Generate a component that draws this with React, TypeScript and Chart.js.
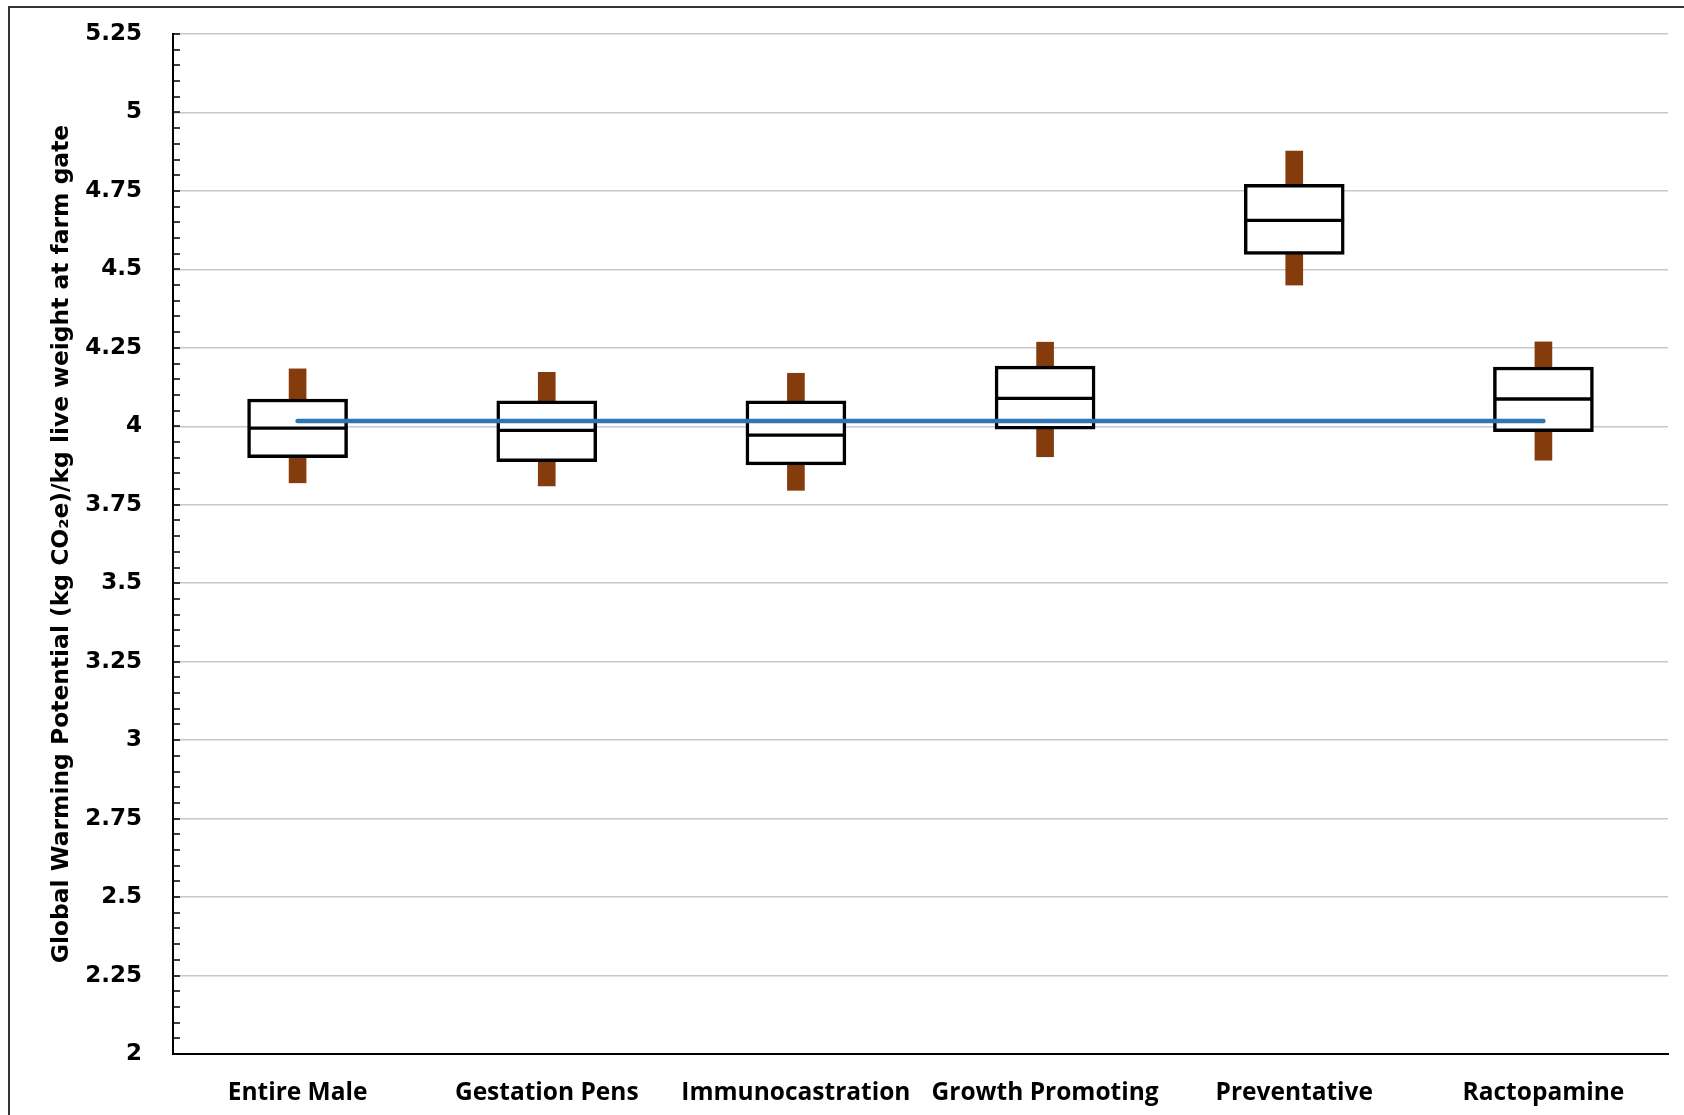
import React, { useEffect, useRef } from "react";
import { Chart, registerables } from "chart.js";

Chart.register(...registerables);

// ---- data ----
const categories = [
  "Entire Male",
  "Gestation Pens",
  "Immunocastration",
  "Growth Promoting",
  "Preventative",
  "Ractopamine",
];
const whiskerLow = [3.82, 3.81, 3.796, 3.903, 4.45, 3.892];
const q1 = [3.9, 3.887, 3.877, 3.991, 4.548, 3.983];
const median = [3.994, 3.987, 3.972, 4.089, 4.656, 4.087];
const q3 = [4.087, 4.081, 4.081, 4.192, 4.771, 4.189];
const whiskerHigh = [4.183, 4.172, 4.169, 4.268, 4.877, 4.269];
const referenceLine = [4.017, 4.017, 4.017, 4.017, 4.017, 4.017];

const yMin = 2;
const yMax = 5.25;
const yStep = 0.25;
const yMinorStep = 0.05;
const yTitle = "Global Warming Potential (kg CO\u2082e)/kg live weight at farm gate";

const W = 1684;
const H = 1115;

const minorTicks = {
  id: "minorTicks",
  afterDraw(chart: any) {
    const y = chart.scales.y;
    const ctx = chart.ctx;
    const x0 = chart.chartArea.left;
    ctx.save();
    ctx.strokeStyle = "#000";
    ctx.lineWidth = 1.5;
    const n = Math.round((yMax - yMin) / yMinorStep);
    for (let i = 0; i <= n; i++) {
      const py = Math.round(y.getPixelForValue(yMin + i * yMinorStep));
      ctx.beginPath();
      ctx.moveTo(x0, py);
      ctx.lineTo(x0 + 7, py);
      ctx.stroke();
    }
    ctx.restore();
  },
};

export default function App() {
  const ref = useRef<HTMLCanvasElement | null>(null);

  useEffect(() => {
    document.body.style.margin = "0";
    document.body.style.overflow = "hidden";
    const canvas = ref.current!;
    const pair = (a: number[], b: number[]) => a.map((v, i) => [v, b[i]]);
    const chart = new Chart(canvas, {
      type: "bar",
      data: {
        labels: categories,
        datasets: [
          {
            type: "line",
            label: "reference",
            data: referenceLine,
            borderColor: "#2E75B6",
            borderWidth: 4.5,
            borderCapStyle: "round",
            pointRadius: 0,
            order: 0,
          } as any,
          {
            label: "upper box",
            data: pair(median, q3),
            backgroundColor: "#FFFFFF",
            borderColor: "#000000",
            borderWidth: { top: 3.5, left: 3.5, right: 3.5, bottom: 2 },
            borderSkipped: false,
            barThickness: 100,
            grouped: false,
            order: 1,
          } as any,
          {
            label: "lower box",
            data: pair(q1, median),
            backgroundColor: "#FFFFFF",
            borderColor: "#000000",
            borderWidth: { top: 2, left: 3.5, right: 3.5, bottom: 3.5 },
            borderSkipped: false,
            barThickness: 100,
            grouped: false,
            order: 1,
          } as any,
          {
            label: "upper whisker",
            data: pair(q3, whiskerHigh),
            backgroundColor: "#843C0C",
            borderWidth: 0,
            barThickness: 17,
            grouped: false,
            order: 2,
          } as any,
          {
            label: "lower whisker",
            data: pair(whiskerLow, q1),
            backgroundColor: "#843C0C",
            borderWidth: 0,
            barThickness: 17,
            grouped: false,
            order: 2,
          } as any,
        ],
      },
      options: {
        animation: false,
        responsive: false,
        devicePixelRatio: 1,
        layout: { padding: { top: 34, right: 16, left: 0, bottom: 0 } },
        plugins: {
          legend: { display: false },
          tooltip: { enabled: false },
          title: { display: false },
        },
        scales: {
          x: {
            grid: { display: false, drawTicks: false },
            border: { display: true, color: "#000000", width: 2 },
            ticks: {
              color: "#000000",
              padding: 24,
              maxRotation: 0,
              autoSkip: false,
              font: { family: "'Open Sans'", weight: "bold", size: 24.5 },
            },
            afterFit: (s: any) => {
              s.height = 61;
            },
          },
          y: {
            min: yMin,
            max: yMax,
            grid: {
              color: "#C8C8C8",
              lineWidth: 1.5,
              drawTicks: true,
              tickLength: 31,
              tickColor: "rgba(0,0,0,0)",
            },
            border: { display: true, color: "#000000", width: 2 },
            ticks: {
              stepSize: yStep,
              color: "#000000",
              padding: 0,
              font: { family: "'DejaVu Sans'", weight: "bold", size: 23 },
              callback: (v: any) => String(Number(Number(v).toFixed(2))),
            },
            title: {
              display: true,
              text: yTitle,
              color: "#000000",
              padding: { top: 48, bottom: 0 },
              font: { family: "'DejaVu Sans'", weight: "bold", size: 23.4 },
            },
            afterFit: (s: any) => {
              s.width = 173;
            },
          },
        },
      } as any,
      plugins: [minorTicks],
    });
    return () => chart.destroy();
  }, []);

  return (
    <div style={{ position: "relative", width: W, height: H, background: "#fff" }}>
      <canvas ref={ref} width={W} height={H} style={{ display: "block" }} />
      <div
        style={{
          position: "absolute",
          left: 8,
          top: 6,
          right: 0,
          bottom: 0,
          borderLeft: "2px solid #333",
          borderTop: "2px solid #333",
          pointerEvents: "none",
        }}
      />
    </div>
  );
}
